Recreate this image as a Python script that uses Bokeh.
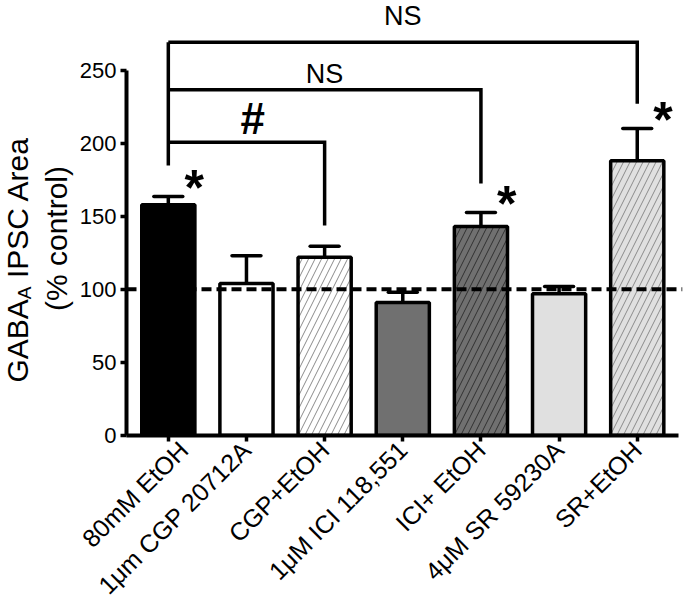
import math
from bokeh.plotting import figure
from bokeh.layouts import row
from bokeh.models import ColumnDataSource, Range1d, FixedTicker, Span
from bokeh.core.properties import value
from bokeh.embed import file_html
from bokeh.resources import INLINE

# ---------------- data ----------------
categories = ["80mM EtOH", "1\u03bcm CGP 20712A", "CGP+EtOH", "1\u03bcM ICI 118,551",
              "ICI+ EtOH", "4\u03bcM SR 59230A", "SR+EtOH"]
means = [157.8, 104.0, 122.0, 91.0, 143.0, 97.0, 188.0]
sems = [5.7, 19.0, 7.5, 7.0, 9.5, 5.0, 22.0]
y_ticks = [0, 50, 100, 150, 200, 250]
control_level = 100

# comparisons: (left bar, right bar, label, bracket level, right-leg end)
cmp_left = [0, 0, 0]
cmp_right = [2, 4, 6]
cmp_text = ["#", "NS", "NS"]
cmp_level = [200.6, 236.5, 269.0]
cmp_right_end = [143.6, 172.4, 227.0]
cmp_left_end = 184.7
sig_bars = [0, 4, 6]           # bars marked with *

# ---------------- styles ----------------
fills = ["#000000", "#ffffff", "#ffffff", "#707070", "#707070", "#e0e0e0", "#e0e0e0"]
hatches = [" ", " ", "/", " ", "/", " ", "/"]
hatch_cols = ["#000000", "#000000", "#8a8a8a", "#000000", "#303030", "#000000", "#8a8a8a"]

FONT = "Liberation Sans"
H = 616
FRAME_B = 435                # page y of the x axis
TW = 76                      # width of the y-title strip
idx = list(range(len(categories)))

# ---------------- y-axis title strip ----------------
t = figure(width=TW, height=H, output_backend="svg", toolbar_location=None,
           x_range=Range1d(0, TW), y_range=Range1d(0, FRAME_B),
           x_axis_location=None, y_axis_location=None,
           min_border_left=0, min_border_right=0, min_border_top=0,
           min_border_bottom=H - FRAME_B)
t.outline_line_color = None
t.grid.visible = False

TF = 30
SF = 19
start = 382
w_gaba = 2.779 * TF
w_sub = 0.667 * SF
w_space = 0.278 * TF
common = dict(angle=math.pi / 2, text_baseline="middle", text_font=value(FONT),
              text_color="black")
t.text(x=[17], y=[FRAME_B - start], text=["GABA"], text_align="left",
       text_font_size=f"{TF}px", **common)
t.text(x=[24], y=[FRAME_B - (start - w_gaba)], text=["A"], text_align="left",
       text_font_size=f"{SF}px", **common)
t.text(x=[17], y=[FRAME_B - (start - w_gaba - w_sub - w_space)], text=["IPSC Area"],
       text_align="left", text_font_size=f"{TF}px", **common)
t.text(x=[56], y=[FRAME_B - 238], text=["(% control)"], text_align="center",
       text_font_size=f"{TF}px", **common)

# ---------------- main chart ----------------
PX_Y = 1.462
p = figure(width=690 - TW, height=H, output_backend="svg", toolbar_location=None,
           x_range=Range1d(-0.535, 6.579), y_range=Range1d(0, FRAME_B / PX_Y),
           min_border_left=125 - TW, min_border_right=8, min_border_top=0,
           min_border_bottom=H - FRAME_B)
p.outline_line_color = None
p.grid.visible = False

src = ColumnDataSource(dict(x=idx, top=means, fill=fills, hatch=hatches, hcol=hatch_cols,
                            etop=[m + s for m, s in zip(means, sems)]))

# error bars (upper only)
p.segment(x0="x", y0="top", x1="x", y1="etop", source=src, line_color="black",
          line_width=3.5)
cap = 0.185
p.segment(x0=[i - cap for i in idx], y0=src.data["etop"], x1=[i + cap for i in idx],
          y1=src.data["etop"], line_color="black", line_width=3.5, line_cap="round")

p.vbar(x="x", top="top", bottom=0, width=0.68, source=src, fill_color="fill",
       line_color="black", line_width=3.5, hatch_pattern="hatch", hatch_color="hcol",
       hatch_weight=1, hatch_scale=13)

# reference line at control level
p.add_layout(Span(location=control_level, dimension="width", line_color="black",
                  line_width=4, line_dash="10 5"))

# comparison brackets
xs, ys = [], []
for l, r, lev, rend in zip(cmp_left, cmp_right, cmp_level, cmp_right_end):
    xs.append([l, r, r])
    ys.append([lev, lev, rend])
xs.append([cmp_left[0], cmp_left[0]])
ys.append([cmp_left_end, max(cmp_level)])
p.multi_line(xs=xs, ys=ys, line_color="black", line_width=3.5, line_join="miter")

# comparison labels
txt_x = [(l + r) / 2 for l, r in zip(cmp_left, cmp_right)]
txt_x[0] += 0.08
txt_y = [216.8, 247.0, 286.6]
fs = ["44px", "27px", "27px"]
styles = ["bold", "normal", "normal"]
for tx, ty, tt, f, s in zip(txt_x, txt_y, cmp_text, fs, styles):
    p.text(x=[tx], y=[ty], text=[tt], text_align="center", text_baseline="middle",
           text_font=value(FONT), text_font_size=f, text_font_style=s, text_color="black")

# significance stars
star_x = [b + 0.33 for b in sig_bars]
star_y = [means[b] + sems[b] + 6 for b in sig_bars]
p.text(x=star_x, y=star_y, text=["*"] * len(sig_bars), text_align="center",
       text_baseline="middle", text_font=value(FONT), text_font_size="50px",
       text_font_style="bold", text_color="black")

# axes
for ax in (p.xaxis[0], p.yaxis[0]):
    ax.axis_line_width = 4
    ax.axis_line_color = "black"
    ax.major_tick_line_width = 3.5
    ax.major_tick_line_color = "black"
    ax.major_tick_out = 6
    ax.major_tick_in = 0
    ax.minor_tick_line_color = None
    ax.major_label_text_color = "black"
    ax.major_label_text_font = FONT

p.yaxis.ticker = FixedTicker(ticks=y_ticks)
p.yaxis.bounds = (0, 250)
p.yaxis.major_label_text_font_size = "22px"
p.yaxis.major_label_standoff = 4

p.xaxis.ticker = FixedTicker(ticks=idx)
p.xaxis.bounds = (-0.535, 6.525)
p.xaxis.major_label_overrides = {i: c for i, c in enumerate(categories)}
p.xaxis.major_label_orientation = math.pi / 4
p.xaxis.major_label_text_font_size = "25px"
p.xaxis.major_label_standoff = 4

layout = row(t, p, spacing=0)
open("out.html", "w").write(file_html(layout, INLINE))
